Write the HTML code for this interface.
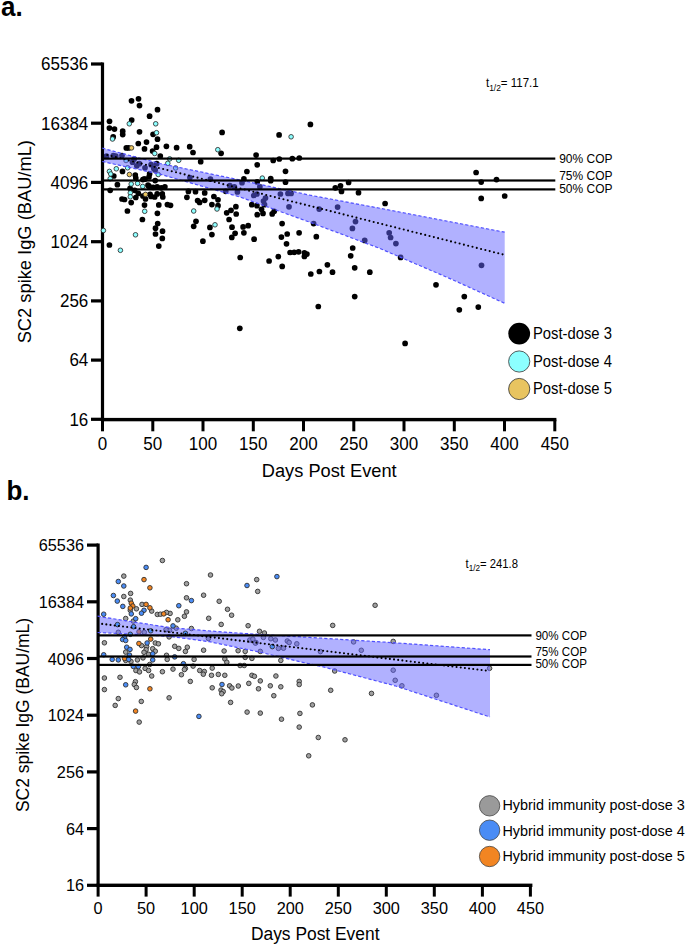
<!DOCTYPE html>
<html><head><meta charset="utf-8"><title>Figure</title><style>
html,body{margin:0;padding:0;background:#fff;}
body{width:685px;height:945px;overflow:hidden;position:relative;}
svg{position:absolute;left:0;top:0;display:block;}
text{font-family:"Liberation Sans", sans-serif;fill:#000;}
</style></head><body>
<svg width="685" height="945" viewBox="0 0 685 945">
<rect width="685" height="945" fill="#fff"/>
<text transform="translate(1.00,15.90) scale(1.0,1.03)" font-size="26" font-weight="bold">a.</text>
<rect x="100.9" y="62.5" width="3.2" height="358.8" fill="#000"/>
<rect x="100.9" y="417.9" width="455.5" height="3.4" fill="#000"/>
<rect x="91.0" y="62.4" width="11.5" height="3.2" fill="#000"/>
<text transform="translate(88.30,70.30) scale(1.0,1.04)" text-anchor="end" font-size="17">65536</text>
<rect x="91.0" y="121.6" width="11.5" height="3.2" fill="#000"/>
<text transform="translate(88.30,129.52) scale(1.0,1.04)" text-anchor="end" font-size="17">16384</text>
<rect x="91.0" y="180.8" width="11.5" height="3.2" fill="#000"/>
<text transform="translate(88.30,188.74) scale(1.0,1.04)" text-anchor="end" font-size="17">4096</text>
<rect x="91.0" y="240.1" width="11.5" height="3.2" fill="#000"/>
<text transform="translate(88.30,247.96) scale(1.0,1.04)" text-anchor="end" font-size="17">1024</text>
<rect x="91.0" y="299.3" width="11.5" height="3.2" fill="#000"/>
<text transform="translate(88.30,307.18) scale(1.0,1.04)" text-anchor="end" font-size="17">256</text>
<rect x="91.0" y="358.5" width="11.5" height="3.2" fill="#000"/>
<text transform="translate(88.30,366.40) scale(1.0,1.04)" text-anchor="end" font-size="17">64</text>
<rect x="91.0" y="417.7" width="11.5" height="3.2" fill="#000"/>
<text transform="translate(88.30,425.62) scale(1.0,1.04)" text-anchor="end" font-size="17">16</text>
<rect x="101.0" y="419.6" width="3" height="11.7" fill="#000"/>
<text transform="translate(102.50,449.50) scale(1.0,1.05)" text-anchor="middle" font-size="17">0</text>
<rect x="151.3" y="419.6" width="3" height="11.7" fill="#000"/>
<text transform="translate(152.75,449.50) scale(1.0,1.05)" text-anchor="middle" font-size="17">50</text>
<rect x="201.5" y="419.6" width="3" height="11.7" fill="#000"/>
<text transform="translate(203.01,449.50) scale(1.0,1.05)" text-anchor="middle" font-size="17">100</text>
<rect x="251.8" y="419.6" width="3" height="11.7" fill="#000"/>
<text transform="translate(253.27,449.50) scale(1.0,1.05)" text-anchor="middle" font-size="17">150</text>
<rect x="302.0" y="419.6" width="3" height="11.7" fill="#000"/>
<text transform="translate(303.52,449.50) scale(1.0,1.05)" text-anchor="middle" font-size="17">200</text>
<rect x="352.3" y="419.6" width="3" height="11.7" fill="#000"/>
<text transform="translate(353.78,449.50) scale(1.0,1.05)" text-anchor="middle" font-size="17">250</text>
<rect x="402.5" y="419.6" width="3" height="11.7" fill="#000"/>
<text transform="translate(404.03,449.50) scale(1.0,1.05)" text-anchor="middle" font-size="17">300</text>
<rect x="452.8" y="419.6" width="3" height="11.7" fill="#000"/>
<text transform="translate(454.29,449.50) scale(1.0,1.05)" text-anchor="middle" font-size="17">350</text>
<rect x="503.0" y="419.6" width="3" height="11.7" fill="#000"/>
<text transform="translate(504.54,449.50) scale(1.0,1.05)" text-anchor="middle" font-size="17">400</text>
<rect x="553.3" y="419.6" width="3" height="11.7" fill="#000"/>
<text transform="translate(554.80,449.50) scale(1.0,1.05)" text-anchor="middle" font-size="17">450</text>
<text transform="translate(329.20,476.70) scale(1.0,1.045)" text-anchor="middle" font-size="18.25">Days Post Event</text>
<text transform="translate(30.80,241.70) rotate(-90) scale(1.0,1.045)" text-anchor="middle" font-size="18.3">SC2 spike IgG (BAU/mL)</text>
<circle cx="131.5" cy="100.8" r="2.85" fill="#000"/>
<circle cx="138.5" cy="98.8" r="2.85" fill="#000"/>
<circle cx="139.5" cy="105.6" r="2.85" fill="#000"/>
<circle cx="157.5" cy="109.7" r="2.85" fill="#000"/>
<circle cx="149.6" cy="116.2" r="2.85" fill="#000"/>
<circle cx="109.5" cy="121.3" r="2.85" fill="#000"/>
<circle cx="131.7" cy="120.1" r="2.85" fill="#000"/>
<circle cx="109.4" cy="128.1" r="2.85" fill="#000"/>
<circle cx="114.5" cy="129.1" r="2.85" fill="#000"/>
<circle cx="122.7" cy="131.2" r="2.85" fill="#000"/>
<circle cx="139.5" cy="131.8" r="2.85" fill="#000"/>
<circle cx="153.1" cy="134.3" r="2.85" fill="#000"/>
<circle cx="122.7" cy="134.6" r="2.85" fill="#000"/>
<circle cx="113.2" cy="136.9" r="2.85" fill="#000"/>
<circle cx="157.5" cy="139.2" r="2.85" fill="#000"/>
<circle cx="146.5" cy="142.1" r="2.85" fill="#000"/>
<circle cx="138.3" cy="143.5" r="2.85" fill="#000"/>
<circle cx="126.3" cy="147.9" r="2.85" fill="#000"/>
<circle cx="128.6" cy="147.9" r="2.85" fill="#000"/>
<circle cx="166.4" cy="146.3" r="2.85" fill="#000"/>
<circle cx="156.5" cy="147.2" r="2.85" fill="#000"/>
<circle cx="144.5" cy="148.9" r="2.85" fill="#000"/>
<circle cx="152.6" cy="151.0" r="2.85" fill="#000"/>
<circle cx="160.3" cy="156.1" r="2.85" fill="#000"/>
<circle cx="113.3" cy="155.5" r="2.85" fill="#000"/>
<circle cx="115.8" cy="156.0" r="2.85" fill="#000"/>
<circle cx="106.5" cy="156.0" r="2.85" fill="#000"/>
<circle cx="122.0" cy="155.5" r="2.85" fill="#000"/>
<circle cx="134.2" cy="159.1" r="2.85" fill="#000"/>
<circle cx="132.5" cy="162.2" r="2.85" fill="#000"/>
<circle cx="139.3" cy="163.7" r="2.85" fill="#000"/>
<circle cx="136.8" cy="165.8" r="2.85" fill="#000"/>
<circle cx="145.0" cy="167.8" r="2.85" fill="#000"/>
<circle cx="151.1" cy="164.7" r="2.85" fill="#000"/>
<circle cx="155.2" cy="169.9" r="2.85" fill="#000"/>
<circle cx="156.7" cy="163.7" r="2.85" fill="#000"/>
<circle cx="153.8" cy="168.4" r="2.85" fill="#000"/>
<circle cx="122.5" cy="171.4" r="2.85" fill="#000"/>
<circle cx="113.8" cy="176.0" r="2.85" fill="#000"/>
<circle cx="135.3" cy="175.0" r="2.85" fill="#000"/>
<circle cx="149.6" cy="173.9" r="2.85" fill="#000"/>
<circle cx="149.0" cy="177.0" r="2.85" fill="#000"/>
<circle cx="135.8" cy="178.0" r="2.85" fill="#000"/>
<circle cx="144.0" cy="179.0" r="2.85" fill="#000"/>
<circle cx="142.9" cy="179.6" r="2.85" fill="#000"/>
<circle cx="145.0" cy="179.1" r="2.85" fill="#000"/>
<circle cx="155.2" cy="180.6" r="2.85" fill="#000"/>
<circle cx="117.4" cy="184.7" r="2.85" fill="#000"/>
<circle cx="110.2" cy="190.3" r="2.85" fill="#000"/>
<circle cx="130.1" cy="188.3" r="2.85" fill="#000"/>
<circle cx="148.0" cy="185.2" r="2.85" fill="#000"/>
<circle cx="149.0" cy="186.2" r="2.85" fill="#000"/>
<circle cx="153.1" cy="187.3" r="2.85" fill="#000"/>
<circle cx="157.2" cy="186.8" r="2.85" fill="#000"/>
<circle cx="161.3" cy="187.8" r="2.85" fill="#000"/>
<circle cx="164.9" cy="186.8" r="2.85" fill="#000"/>
<circle cx="134.7" cy="190.3" r="2.85" fill="#000"/>
<circle cx="138.3" cy="193.4" r="2.85" fill="#000"/>
<circle cx="135.8" cy="197.5" r="2.85" fill="#000"/>
<circle cx="142.9" cy="196.0" r="2.85" fill="#000"/>
<circle cx="145.5" cy="199.0" r="2.85" fill="#000"/>
<circle cx="150.1" cy="194.4" r="2.85" fill="#000"/>
<circle cx="151.1" cy="196.5" r="2.85" fill="#000"/>
<circle cx="154.7" cy="197.0" r="2.85" fill="#000"/>
<circle cx="157.2" cy="193.9" r="2.85" fill="#000"/>
<circle cx="162.3" cy="193.9" r="2.85" fill="#000"/>
<circle cx="162.8" cy="197.0" r="2.85" fill="#000"/>
<circle cx="122.0" cy="199.0" r="2.85" fill="#000"/>
<circle cx="124.5" cy="199.5" r="2.85" fill="#000"/>
<circle cx="131.2" cy="202.6" r="2.85" fill="#000"/>
<circle cx="144.5" cy="205.1" r="2.85" fill="#000"/>
<circle cx="158.8" cy="204.9" r="2.85" fill="#000"/>
<circle cx="167.4" cy="204.6" r="2.85" fill="#000"/>
<circle cx="170.5" cy="205.3" r="2.85" fill="#000"/>
<circle cx="127.4" cy="211.0" r="2.85" fill="#000"/>
<circle cx="157.4" cy="213.3" r="2.85" fill="#000"/>
<circle cx="142.4" cy="219.5" r="2.85" fill="#000"/>
<circle cx="157.7" cy="223.5" r="2.85" fill="#000"/>
<circle cx="155.5" cy="228.2" r="2.85" fill="#000"/>
<circle cx="162.5" cy="231.2" r="2.85" fill="#000"/>
<circle cx="155.5" cy="234.0" r="2.85" fill="#000"/>
<circle cx="162.3" cy="238.4" r="2.85" fill="#000"/>
<circle cx="158.8" cy="246.1" r="2.85" fill="#000"/>
<circle cx="109.4" cy="245.0" r="2.85" fill="#000"/>
<circle cx="222.1" cy="132.4" r="2.85" fill="#000"/>
<circle cx="176.6" cy="147.7" r="2.85" fill="#000"/>
<circle cx="189.7" cy="146.7" r="2.85" fill="#000"/>
<circle cx="193.0" cy="152.5" r="2.85" fill="#000"/>
<circle cx="221.1" cy="153.3" r="2.85" fill="#000"/>
<circle cx="200.7" cy="161.7" r="2.85" fill="#000"/>
<circle cx="189.9" cy="177.5" r="2.85" fill="#000"/>
<circle cx="210.4" cy="179.0" r="2.85" fill="#000"/>
<circle cx="229.8" cy="185.7" r="2.85" fill="#000"/>
<circle cx="234.4" cy="186.8" r="2.85" fill="#000"/>
<circle cx="237.4" cy="191.9" r="2.85" fill="#000"/>
<circle cx="225.7" cy="191.3" r="2.85" fill="#000"/>
<circle cx="188.4" cy="191.4" r="2.85" fill="#000"/>
<circle cx="195.5" cy="191.7" r="2.85" fill="#000"/>
<circle cx="204.7" cy="192.9" r="2.85" fill="#000"/>
<circle cx="186.9" cy="197.3" r="2.85" fill="#000"/>
<circle cx="197.6" cy="200.5" r="2.85" fill="#000"/>
<circle cx="199.6" cy="202.4" r="2.85" fill="#000"/>
<circle cx="204.7" cy="200.3" r="2.85" fill="#000"/>
<circle cx="213.9" cy="196.5" r="2.85" fill="#000"/>
<circle cx="218.0" cy="199.8" r="2.85" fill="#000"/>
<circle cx="211.9" cy="204.6" r="2.85" fill="#000"/>
<circle cx="218.0" cy="205.7" r="2.85" fill="#000"/>
<circle cx="226.7" cy="212.8" r="2.85" fill="#000"/>
<circle cx="231.0" cy="210.3" r="2.85" fill="#000"/>
<circle cx="235.9" cy="206.7" r="2.85" fill="#000"/>
<circle cx="236.2" cy="214.0" r="2.85" fill="#000"/>
<circle cx="229.1" cy="219.5" r="2.85" fill="#000"/>
<circle cx="196.0" cy="221.3" r="2.85" fill="#000"/>
<circle cx="193.7" cy="226.3" r="2.85" fill="#000"/>
<circle cx="209.9" cy="227.4" r="2.85" fill="#000"/>
<circle cx="232.0" cy="227.2" r="2.85" fill="#000"/>
<circle cx="235.1" cy="233.3" r="2.85" fill="#000"/>
<circle cx="231.8" cy="237.4" r="2.85" fill="#000"/>
<circle cx="211.9" cy="234.6" r="2.85" fill="#000"/>
<circle cx="202.9" cy="241.2" r="2.85" fill="#000"/>
<circle cx="310.4" cy="124.4" r="2.85" fill="#000"/>
<circle cx="279.1" cy="134.9" r="2.85" fill="#000"/>
<circle cx="256.1" cy="155.1" r="2.85" fill="#000"/>
<circle cx="273.2" cy="160.5" r="2.85" fill="#000"/>
<circle cx="279.3" cy="159.0" r="2.85" fill="#000"/>
<circle cx="292.3" cy="158.7" r="2.85" fill="#000"/>
<circle cx="299.3" cy="158.0" r="2.85" fill="#000"/>
<circle cx="257.2" cy="164.8" r="2.85" fill="#000"/>
<circle cx="246.9" cy="171.5" r="2.85" fill="#000"/>
<circle cx="285.5" cy="171.3" r="2.85" fill="#000"/>
<circle cx="243.9" cy="178.9" r="2.85" fill="#000"/>
<circle cx="270.7" cy="178.6" r="2.85" fill="#000"/>
<circle cx="270.7" cy="180.7" r="2.85" fill="#000"/>
<circle cx="257.2" cy="181.9" r="2.85" fill="#000"/>
<circle cx="285.5" cy="182.2" r="2.85" fill="#000"/>
<circle cx="242.0" cy="182.7" r="2.85" fill="#000"/>
<circle cx="259.9" cy="186.8" r="2.85" fill="#000"/>
<circle cx="253.8" cy="195.5" r="2.85" fill="#000"/>
<circle cx="256.9" cy="194.0" r="2.85" fill="#000"/>
<circle cx="280.4" cy="194.0" r="2.85" fill="#000"/>
<circle cx="288.0" cy="193.4" r="2.85" fill="#000"/>
<circle cx="291.1" cy="193.4" r="2.85" fill="#000"/>
<circle cx="265.5" cy="198.0" r="2.85" fill="#000"/>
<circle cx="263.5" cy="201.0" r="2.85" fill="#000"/>
<circle cx="348.6" cy="182.5" r="2.85" fill="#000"/>
<circle cx="340.5" cy="185.8" r="2.85" fill="#000"/>
<circle cx="335.3" cy="187.8" r="2.85" fill="#000"/>
<circle cx="341.5" cy="191.4" r="2.85" fill="#000"/>
<circle cx="358.5" cy="192.7" r="2.85" fill="#000"/>
<circle cx="476.1" cy="172.5" r="2.85" fill="#000"/>
<circle cx="481.2" cy="182.1" r="2.85" fill="#000"/>
<circle cx="496.5" cy="179.6" r="2.85" fill="#000"/>
<circle cx="481.2" cy="198.4" r="2.85" fill="#000"/>
<circle cx="504.7" cy="196.0" r="2.85" fill="#000"/>
<circle cx="385.1" cy="203.5" r="2.85" fill="#000"/>
<circle cx="389.2" cy="232.8" r="2.85" fill="#000"/>
<circle cx="390.6" cy="237.5" r="2.85" fill="#000"/>
<circle cx="395.9" cy="243.6" r="2.85" fill="#000"/>
<circle cx="264.5" cy="204.7" r="2.85" fill="#000"/>
<circle cx="289.0" cy="206.8" r="2.85" fill="#000"/>
<circle cx="251.8" cy="204.7" r="2.85" fill="#000"/>
<circle cx="256.9" cy="205.7" r="2.85" fill="#000"/>
<circle cx="261.5" cy="209.3" r="2.85" fill="#000"/>
<circle cx="263.0" cy="213.4" r="2.85" fill="#000"/>
<circle cx="257.2" cy="214.7" r="2.85" fill="#000"/>
<circle cx="272.2" cy="213.9" r="2.85" fill="#000"/>
<circle cx="274.2" cy="211.3" r="2.85" fill="#000"/>
<circle cx="282.1" cy="223.6" r="2.85" fill="#000"/>
<circle cx="243.1" cy="226.9" r="2.85" fill="#000"/>
<circle cx="248.2" cy="225.7" r="2.85" fill="#000"/>
<circle cx="243.9" cy="232.8" r="2.85" fill="#000"/>
<circle cx="254.1" cy="239.2" r="2.85" fill="#000"/>
<circle cx="281.4" cy="237.1" r="2.85" fill="#000"/>
<circle cx="287.2" cy="234.0" r="2.85" fill="#000"/>
<circle cx="299.1" cy="232.8" r="2.85" fill="#000"/>
<circle cx="286.5" cy="243.8" r="2.85" fill="#000"/>
<circle cx="319.2" cy="209.1" r="2.85" fill="#000"/>
<circle cx="337.6" cy="207.1" r="2.85" fill="#000"/>
<circle cx="355.5" cy="221.6" r="2.85" fill="#000"/>
<circle cx="352.4" cy="228.4" r="2.85" fill="#000"/>
<circle cx="313.6" cy="223.6" r="2.85" fill="#000"/>
<circle cx="316.3" cy="236.7" r="2.85" fill="#000"/>
<circle cx="364.7" cy="240.4" r="2.85" fill="#000"/>
<circle cx="290.1" cy="252.5" r="2.85" fill="#000"/>
<circle cx="294.2" cy="252.3" r="2.85" fill="#000"/>
<circle cx="298.6" cy="251.8" r="2.85" fill="#000"/>
<circle cx="304.4" cy="252.8" r="2.85" fill="#000"/>
<circle cx="306.9" cy="254.1" r="2.85" fill="#000"/>
<circle cx="304.4" cy="256.4" r="2.85" fill="#000"/>
<circle cx="240.2" cy="257.5" r="2.85" fill="#000"/>
<circle cx="278.3" cy="256.6" r="2.85" fill="#000"/>
<circle cx="269.1" cy="261.0" r="2.85" fill="#000"/>
<circle cx="282.2" cy="266.4" r="2.85" fill="#000"/>
<circle cx="352.7" cy="248.0" r="2.85" fill="#000"/>
<circle cx="350.7" cy="255.8" r="2.85" fill="#000"/>
<circle cx="327.4" cy="264.8" r="2.85" fill="#000"/>
<circle cx="319.4" cy="271.5" r="2.85" fill="#000"/>
<circle cx="332.5" cy="272.2" r="2.85" fill="#000"/>
<circle cx="354.7" cy="267.8" r="2.85" fill="#000"/>
<circle cx="369.8" cy="272.2" r="2.85" fill="#000"/>
<circle cx="310.8" cy="274.0" r="2.85" fill="#000"/>
<circle cx="400.6" cy="257.4" r="2.85" fill="#000"/>
<circle cx="436.0" cy="284.8" r="2.85" fill="#000"/>
<circle cx="481.5" cy="265.3" r="2.85" fill="#000"/>
<circle cx="464.3" cy="296.6" r="2.85" fill="#000"/>
<circle cx="459.3" cy="309.8" r="2.85" fill="#000"/>
<circle cx="478.3" cy="307.1" r="2.85" fill="#000"/>
<circle cx="239.8" cy="328.3" r="2.85" fill="#000"/>
<circle cx="318.3" cy="306.5" r="2.85" fill="#000"/>
<circle cx="354.7" cy="296.6" r="2.85" fill="#000"/>
<circle cx="405.1" cy="343.4" r="2.85" fill="#000"/>
<circle cx="129.3" cy="123.8" r="2.3" fill="#8cffff" stroke="#2a2a2a" stroke-width="0.85"/>
<circle cx="155.7" cy="123.8" r="2.3" fill="#8cffff" stroke="#2a2a2a" stroke-width="0.85"/>
<circle cx="156.5" cy="132.7" r="2.3" fill="#8cffff" stroke="#2a2a2a" stroke-width="0.85"/>
<circle cx="112.5" cy="139.0" r="2.3" fill="#8cffff" stroke="#2a2a2a" stroke-width="0.85"/>
<circle cx="154.7" cy="153.5" r="2.3" fill="#8cffff" stroke="#2a2a2a" stroke-width="0.85"/>
<circle cx="126.0" cy="160.5" r="2.3" fill="#8cffff" stroke="#2a2a2a" stroke-width="0.85"/>
<circle cx="169.7" cy="158.9" r="2.3" fill="#8cffff" stroke="#2a2a2a" stroke-width="0.85"/>
<circle cx="167.8" cy="163.3" r="2.3" fill="#8cffff" stroke="#2a2a2a" stroke-width="0.85"/>
<circle cx="127.6" cy="167.8" r="2.3" fill="#8cffff" stroke="#2a2a2a" stroke-width="0.85"/>
<circle cx="116.3" cy="168.8" r="2.3" fill="#8cffff" stroke="#2a2a2a" stroke-width="0.85"/>
<circle cx="109.4" cy="171.4" r="2.3" fill="#8cffff" stroke="#2a2a2a" stroke-width="0.85"/>
<circle cx="110.7" cy="174.0" r="2.3" fill="#8cffff" stroke="#2a2a2a" stroke-width="0.85"/>
<circle cx="158.2" cy="174.5" r="2.3" fill="#8cffff" stroke="#2a2a2a" stroke-width="0.85"/>
<circle cx="110.2" cy="178.7" r="2.3" fill="#8cffff" stroke="#2a2a2a" stroke-width="0.85"/>
<circle cx="131.2" cy="184.0" r="2.3" fill="#8cffff" stroke="#2a2a2a" stroke-width="0.85"/>
<circle cx="137.6" cy="183.4" r="2.3" fill="#8cffff" stroke="#2a2a2a" stroke-width="0.85"/>
<circle cx="142.7" cy="186.4" r="2.3" fill="#8cffff" stroke="#2a2a2a" stroke-width="0.85"/>
<circle cx="130.3" cy="192.9" r="2.3" fill="#8cffff" stroke="#2a2a2a" stroke-width="0.85"/>
<circle cx="130.3" cy="196.8" r="2.3" fill="#8cffff" stroke="#2a2a2a" stroke-width="0.85"/>
<circle cx="144.7" cy="211.3" r="2.3" fill="#8cffff" stroke="#2a2a2a" stroke-width="0.85"/>
<circle cx="103.4" cy="230.5" r="2.3" fill="#8cffff" stroke="#2a2a2a" stroke-width="0.85"/>
<circle cx="135.5" cy="234.8" r="2.3" fill="#8cffff" stroke="#2a2a2a" stroke-width="0.85"/>
<circle cx="120.4" cy="250.3" r="2.3" fill="#8cffff" stroke="#2a2a2a" stroke-width="0.85"/>
<circle cx="217.8" cy="149.7" r="2.3" fill="#8cffff" stroke="#2a2a2a" stroke-width="0.85"/>
<circle cx="178.7" cy="160.3" r="2.3" fill="#8cffff" stroke="#2a2a2a" stroke-width="0.85"/>
<circle cx="175.6" cy="168.0" r="2.3" fill="#8cffff" stroke="#2a2a2a" stroke-width="0.85"/>
<circle cx="217.0" cy="209.0" r="2.3" fill="#8cffff" stroke="#2a2a2a" stroke-width="0.85"/>
<circle cx="193.7" cy="211.0" r="2.3" fill="#8cffff" stroke="#2a2a2a" stroke-width="0.85"/>
<circle cx="215.0" cy="224.8" r="2.3" fill="#8cffff" stroke="#2a2a2a" stroke-width="0.85"/>
<circle cx="291.1" cy="136.8" r="2.3" fill="#8cffff" stroke="#2a2a2a" stroke-width="0.85"/>
<circle cx="262.3" cy="178.1" r="2.3" fill="#8cffff" stroke="#2a2a2a" stroke-width="0.85"/>
<circle cx="131.5" cy="147.9" r="2.3" fill="#e8c460" stroke="#2a2a2a" stroke-width="0.85"/>
<circle cx="129.4" cy="174.5" r="2.3" fill="#e8c460" stroke="#2a2a2a" stroke-width="0.85"/>
<circle cx="145.5" cy="194.4" r="2.3" fill="#e8c460" stroke="#2a2a2a" stroke-width="0.85"/>
<polygon points="104.1,148.7 160.0,163.5 240.0,180.0 310.0,195.2 380.0,208.3 504.7,232.2 504.7,303.3 450.0,278.6 380.0,248.5 310.0,222.3 240.0,197.0 160.0,174.2 104.1,161.9" fill="#6464ff" fill-opacity="0.5"/><polyline points="102.3,148.2 160.0,163.5 240.0,180.0 310.0,195.2 380.0,208.3 504.7,232.2" fill="none" stroke="#5050ff" stroke-width="1.2" stroke-dasharray="3.2 2.1"/><polyline points="102.3,161.5 160.0,174.2 240.0,197.0 310.0,222.3 380.0,248.5 450.0,278.6 504.7,303.3" fill="none" stroke="#5050ff" stroke-width="1.2" stroke-dasharray="3.2 2.1"/>
<line x1="103" y1="153.9" x2="504.7" y2="254.9" stroke="#000" stroke-width="2.1" stroke-linecap="round" stroke-dasharray="0 4.43"/>
<rect x="103" y="157.50" width="452.3" height="2.2" fill="#000"/>
<rect x="103" y="179.40" width="452.3" height="2.2" fill="#000"/>
<rect x="103" y="188.30" width="452.3" height="2.2" fill="#000"/>
<text transform="translate(559.20,163.20) scale(1.0,1.06)" font-size="12.0">90% COP</text>
<text transform="translate(559.20,180.40) scale(1.0,1.06)" font-size="12.0">75% COP</text>
<text transform="translate(559.20,193.10) scale(1.0,1.06)" font-size="12.0">50% COP</text>
<text transform="translate(486,87.4) scale(1,1.06)" font-size="11.5">t<tspan font-size="8.4" dy="3.2">1/2</tspan><tspan dy="-3.2">= 117.1</tspan></text>
<circle cx="519.2" cy="333.6" r="10.9" fill="#000"/>
<circle cx="519.2" cy="361.5" r="10.6" fill="#8cffff" stroke="#333" stroke-width="0.8"/>
<circle cx="519.2" cy="389.0" r="10.6" fill="#e8c460" stroke="#333" stroke-width="0.8"/>
<text transform="translate(533.00,338.80) scale(1.0,1.08)" font-size="14.8">Post-dose 3</text>
<text transform="translate(533.00,366.60) scale(1.0,1.08)" font-size="14.8">Post-dose 4</text>
<text transform="translate(533.00,394.20) scale(1.0,1.08)" font-size="14.8">Post-dose 5</text>
<text transform="translate(6.50,499.50) scale(1.0,1.03)" font-size="26" font-weight="bold">b.</text>
<rect x="96.5" y="543.5" width="3.2" height="343.5" fill="#000"/>
<rect x="96.5" y="883.6" width="435.9" height="3.4" fill="#000"/>
<rect x="87.0" y="543.5" width="11.1" height="3.2" fill="#000"/>
<text transform="translate(84.00,551.10) scale(1.0,1.04)" text-anchor="end" font-size="16.3">65536</text>
<rect x="87.0" y="600.2" width="11.1" height="3.2" fill="#000"/>
<text transform="translate(84.00,607.80) scale(1.0,1.04)" text-anchor="end" font-size="16.3">16384</text>
<rect x="87.0" y="656.9" width="11.1" height="3.2" fill="#000"/>
<text transform="translate(84.00,664.50) scale(1.0,1.04)" text-anchor="end" font-size="16.3">4096</text>
<rect x="87.0" y="713.6" width="11.1" height="3.2" fill="#000"/>
<text transform="translate(84.00,721.20) scale(1.0,1.04)" text-anchor="end" font-size="16.3">1024</text>
<rect x="87.0" y="770.3" width="11.1" height="3.2" fill="#000"/>
<text transform="translate(84.00,777.90) scale(1.0,1.04)" text-anchor="end" font-size="16.3">256</text>
<rect x="87.0" y="827.0" width="11.1" height="3.2" fill="#000"/>
<text transform="translate(84.00,834.60) scale(1.0,1.04)" text-anchor="end" font-size="16.3">64</text>
<rect x="87.0" y="883.7" width="11.1" height="3.2" fill="#000"/>
<text transform="translate(84.00,891.30) scale(1.0,1.04)" text-anchor="end" font-size="16.3">16</text>
<rect x="96.6" y="885.3" width="3" height="11.3" fill="#000"/>
<text transform="translate(98.10,914.00) scale(1.0,1.05)" text-anchor="middle" font-size="16.3">0</text>
<rect x="144.6" y="885.3" width="3" height="11.3" fill="#000"/>
<text transform="translate(146.13,914.00) scale(1.0,1.05)" text-anchor="middle" font-size="16.3">50</text>
<rect x="192.7" y="885.3" width="3" height="11.3" fill="#000"/>
<text transform="translate(194.17,914.00) scale(1.0,1.05)" text-anchor="middle" font-size="16.3">100</text>
<rect x="240.7" y="885.3" width="3" height="11.3" fill="#000"/>
<text transform="translate(242.20,914.00) scale(1.0,1.05)" text-anchor="middle" font-size="16.3">150</text>
<rect x="288.7" y="885.3" width="3" height="11.3" fill="#000"/>
<text transform="translate(290.24,914.00) scale(1.0,1.05)" text-anchor="middle" font-size="16.3">200</text>
<rect x="336.8" y="885.3" width="3" height="11.3" fill="#000"/>
<text transform="translate(338.27,914.00) scale(1.0,1.05)" text-anchor="middle" font-size="16.3">250</text>
<rect x="384.8" y="885.3" width="3" height="11.3" fill="#000"/>
<text transform="translate(386.31,914.00) scale(1.0,1.05)" text-anchor="middle" font-size="16.3">300</text>
<rect x="432.8" y="885.3" width="3" height="11.3" fill="#000"/>
<text transform="translate(434.35,914.00) scale(1.0,1.05)" text-anchor="middle" font-size="16.3">350</text>
<rect x="480.9" y="885.3" width="3" height="11.3" fill="#000"/>
<text transform="translate(482.38,914.00) scale(1.0,1.05)" text-anchor="middle" font-size="16.3">400</text>
<rect x="528.9" y="885.3" width="3" height="11.3" fill="#000"/>
<text transform="translate(530.41,914.00) scale(1.0,1.05)" text-anchor="middle" font-size="16.3">450</text>
<text transform="translate(315.20,940.10) scale(1.0,1.045)" text-anchor="middle" font-size="17.4">Days Post Event</text>
<text transform="translate(29.40,715.00) rotate(-90) scale(1.0,1.045)" text-anchor="middle" font-size="17.5">SC2 spike IgG (BAU/mL)</text>
<circle cx="162.4" cy="560.5" r="2.3" fill="#a0a0a0" stroke="#303030" stroke-width="0.9"/>
<circle cx="123.8" cy="576.1" r="2.3" fill="#a0a0a0" stroke="#303030" stroke-width="0.9"/>
<circle cx="123.8" cy="596.5" r="2.3" fill="#a0a0a0" stroke="#303030" stroke-width="0.9"/>
<circle cx="130.6" cy="593.4" r="2.3" fill="#a0a0a0" stroke="#303030" stroke-width="0.9"/>
<circle cx="210.5" cy="575.0" r="2.3" fill="#a0a0a0" stroke="#303030" stroke-width="0.9"/>
<circle cx="186.5" cy="583.7" r="2.3" fill="#a0a0a0" stroke="#303030" stroke-width="0.9"/>
<circle cx="203.6" cy="595.2" r="2.3" fill="#a0a0a0" stroke="#303030" stroke-width="0.9"/>
<circle cx="186.5" cy="597.8" r="2.3" fill="#a0a0a0" stroke="#303030" stroke-width="0.9"/>
<circle cx="130.3" cy="600.1" r="2.3" fill="#a0a0a0" stroke="#303030" stroke-width="0.9"/>
<circle cx="130.3" cy="610.3" r="2.3" fill="#a0a0a0" stroke="#303030" stroke-width="0.9"/>
<circle cx="136.4" cy="608.8" r="2.3" fill="#a0a0a0" stroke="#303030" stroke-width="0.9"/>
<circle cx="142.0" cy="604.4" r="2.3" fill="#a0a0a0" stroke="#303030" stroke-width="0.9"/>
<circle cx="151.7" cy="611.1" r="2.3" fill="#a0a0a0" stroke="#303030" stroke-width="0.9"/>
<circle cx="157.3" cy="614.4" r="2.3" fill="#a0a0a0" stroke="#303030" stroke-width="0.9"/>
<circle cx="160.4" cy="614.2" r="2.3" fill="#a0a0a0" stroke="#303030" stroke-width="0.9"/>
<circle cx="125.7" cy="618.5" r="2.3" fill="#a0a0a0" stroke="#303030" stroke-width="0.9"/>
<circle cx="133.3" cy="621.1" r="2.3" fill="#a0a0a0" stroke="#303030" stroke-width="0.9"/>
<circle cx="118.3" cy="632.3" r="2.3" fill="#a0a0a0" stroke="#303030" stroke-width="0.9"/>
<circle cx="104.4" cy="642.8" r="2.3" fill="#a0a0a0" stroke="#303030" stroke-width="0.9"/>
<circle cx="155.3" cy="643.0" r="2.3" fill="#a0a0a0" stroke="#303030" stroke-width="0.9"/>
<circle cx="158.4" cy="643.8" r="2.3" fill="#a0a0a0" stroke="#303030" stroke-width="0.9"/>
<circle cx="144.3" cy="632.3" r="2.3" fill="#a0a0a0" stroke="#303030" stroke-width="0.9"/>
<circle cx="219.2" cy="601.3" r="2.3" fill="#a0a0a0" stroke="#303030" stroke-width="0.9"/>
<circle cx="186.5" cy="611.9" r="2.3" fill="#a0a0a0" stroke="#303030" stroke-width="0.9"/>
<circle cx="184.4" cy="616.3" r="2.3" fill="#a0a0a0" stroke="#303030" stroke-width="0.9"/>
<circle cx="170.1" cy="613.4" r="2.3" fill="#a0a0a0" stroke="#303030" stroke-width="0.9"/>
<circle cx="166.5" cy="612.4" r="2.3" fill="#a0a0a0" stroke="#303030" stroke-width="0.9"/>
<circle cx="177.8" cy="619.8" r="2.3" fill="#a0a0a0" stroke="#303030" stroke-width="0.9"/>
<circle cx="227.5" cy="609.3" r="2.3" fill="#a0a0a0" stroke="#303030" stroke-width="0.9"/>
<circle cx="231.6" cy="615.2" r="2.3" fill="#a0a0a0" stroke="#303030" stroke-width="0.9"/>
<circle cx="208.7" cy="618.3" r="2.3" fill="#a0a0a0" stroke="#303030" stroke-width="0.9"/>
<circle cx="221.2" cy="624.4" r="2.3" fill="#a0a0a0" stroke="#303030" stroke-width="0.9"/>
<circle cx="176.2" cy="628.2" r="2.3" fill="#a0a0a0" stroke="#303030" stroke-width="0.9"/>
<circle cx="169.6" cy="630.3" r="2.3" fill="#a0a0a0" stroke="#303030" stroke-width="0.9"/>
<circle cx="166.0" cy="629.7" r="2.3" fill="#a0a0a0" stroke="#303030" stroke-width="0.9"/>
<circle cx="191.4" cy="628.5" r="2.3" fill="#a0a0a0" stroke="#303030" stroke-width="0.9"/>
<circle cx="169.1" cy="636.9" r="2.3" fill="#a0a0a0" stroke="#303030" stroke-width="0.9"/>
<circle cx="208.4" cy="638.4" r="2.3" fill="#a0a0a0" stroke="#303030" stroke-width="0.9"/>
<circle cx="256.7" cy="579.6" r="2.3" fill="#a0a0a0" stroke="#303030" stroke-width="0.9"/>
<circle cx="257.7" cy="591.4" r="2.3" fill="#a0a0a0" stroke="#303030" stroke-width="0.9"/>
<circle cx="248.1" cy="625.7" r="2.3" fill="#a0a0a0" stroke="#303030" stroke-width="0.9"/>
<circle cx="259.5" cy="631.3" r="2.3" fill="#a0a0a0" stroke="#303030" stroke-width="0.9"/>
<circle cx="264.4" cy="633.0" r="2.3" fill="#a0a0a0" stroke="#303030" stroke-width="0.9"/>
<circle cx="249.8" cy="640.0" r="2.3" fill="#a0a0a0" stroke="#303030" stroke-width="0.9"/>
<circle cx="252.9" cy="639.1" r="2.3" fill="#a0a0a0" stroke="#303030" stroke-width="0.9"/>
<circle cx="256.0" cy="642.5" r="2.3" fill="#a0a0a0" stroke="#303030" stroke-width="0.9"/>
<circle cx="263.4" cy="637.4" r="2.3" fill="#a0a0a0" stroke="#303030" stroke-width="0.9"/>
<circle cx="270.8" cy="638.7" r="2.3" fill="#a0a0a0" stroke="#303030" stroke-width="0.9"/>
<circle cx="275.4" cy="640.0" r="2.3" fill="#a0a0a0" stroke="#303030" stroke-width="0.9"/>
<circle cx="287.3" cy="641.0" r="2.3" fill="#a0a0a0" stroke="#303030" stroke-width="0.9"/>
<circle cx="289.2" cy="642.5" r="2.3" fill="#a0a0a0" stroke="#303030" stroke-width="0.9"/>
<circle cx="296.8" cy="643.8" r="2.3" fill="#a0a0a0" stroke="#303030" stroke-width="0.9"/>
<circle cx="375.1" cy="605.3" r="2.3" fill="#a0a0a0" stroke="#303030" stroke-width="0.9"/>
<circle cx="332.7" cy="625.4" r="2.3" fill="#a0a0a0" stroke="#303030" stroke-width="0.9"/>
<circle cx="353.6" cy="641.9" r="2.3" fill="#a0a0a0" stroke="#303030" stroke-width="0.9"/>
<circle cx="320.4" cy="651.6" r="2.3" fill="#a0a0a0" stroke="#303030" stroke-width="0.9"/>
<circle cx="361.3" cy="650.3" r="2.3" fill="#a0a0a0" stroke="#303030" stroke-width="0.9"/>
<circle cx="334.7" cy="671.0" r="2.3" fill="#a0a0a0" stroke="#303030" stroke-width="0.9"/>
<circle cx="393.2" cy="641.4" r="2.3" fill="#a0a0a0" stroke="#303030" stroke-width="0.9"/>
<circle cx="393.2" cy="670.2" r="2.3" fill="#a0a0a0" stroke="#303030" stroke-width="0.9"/>
<circle cx="395.2" cy="680.3" r="2.3" fill="#a0a0a0" stroke="#303030" stroke-width="0.9"/>
<circle cx="401.9" cy="685.8" r="2.3" fill="#a0a0a0" stroke="#303030" stroke-width="0.9"/>
<circle cx="436.4" cy="695.3" r="2.3" fill="#a0a0a0" stroke="#303030" stroke-width="0.9"/>
<circle cx="489.6" cy="668.3" r="2.3" fill="#a0a0a0" stroke="#303030" stroke-width="0.9"/>
<circle cx="371.5" cy="693.4" r="2.3" fill="#a0a0a0" stroke="#303030" stroke-width="0.9"/>
<circle cx="141.5" cy="645.6" r="2.3" fill="#a0a0a0" stroke="#303030" stroke-width="0.9"/>
<circle cx="125.7" cy="652.1" r="2.3" fill="#a0a0a0" stroke="#303030" stroke-width="0.9"/>
<circle cx="146.6" cy="646.6" r="2.3" fill="#a0a0a0" stroke="#303030" stroke-width="0.9"/>
<circle cx="146.1" cy="649.7" r="2.3" fill="#a0a0a0" stroke="#303030" stroke-width="0.9"/>
<circle cx="152.7" cy="648.7" r="2.3" fill="#a0a0a0" stroke="#303030" stroke-width="0.9"/>
<circle cx="155.3" cy="651.2" r="2.3" fill="#a0a0a0" stroke="#303030" stroke-width="0.9"/>
<circle cx="144.0" cy="652.3" r="2.3" fill="#a0a0a0" stroke="#303030" stroke-width="0.9"/>
<circle cx="148.6" cy="654.3" r="2.3" fill="#a0a0a0" stroke="#303030" stroke-width="0.9"/>
<circle cx="125.7" cy="660.4" r="2.3" fill="#a0a0a0" stroke="#303030" stroke-width="0.9"/>
<circle cx="131.0" cy="661.5" r="2.3" fill="#a0a0a0" stroke="#303030" stroke-width="0.9"/>
<circle cx="137.4" cy="659.9" r="2.3" fill="#a0a0a0" stroke="#303030" stroke-width="0.9"/>
<circle cx="143.0" cy="657.9" r="2.3" fill="#a0a0a0" stroke="#303030" stroke-width="0.9"/>
<circle cx="149.7" cy="664.5" r="2.3" fill="#a0a0a0" stroke="#303030" stroke-width="0.9"/>
<circle cx="145.1" cy="668.4" r="2.3" fill="#a0a0a0" stroke="#303030" stroke-width="0.9"/>
<circle cx="148.6" cy="670.5" r="2.3" fill="#a0a0a0" stroke="#303030" stroke-width="0.9"/>
<circle cx="135.9" cy="670.5" r="2.3" fill="#a0a0a0" stroke="#303030" stroke-width="0.9"/>
<circle cx="139.5" cy="671.9" r="2.3" fill="#a0a0a0" stroke="#303030" stroke-width="0.9"/>
<circle cx="151.7" cy="676.0" r="2.3" fill="#a0a0a0" stroke="#303030" stroke-width="0.9"/>
<circle cx="162.4" cy="671.7" r="2.3" fill="#a0a0a0" stroke="#303030" stroke-width="0.9"/>
<circle cx="104.4" cy="678.0" r="2.3" fill="#a0a0a0" stroke="#303030" stroke-width="0.9"/>
<circle cx="120.0" cy="677.3" r="2.3" fill="#a0a0a0" stroke="#303030" stroke-width="0.9"/>
<circle cx="135.4" cy="681.7" r="2.3" fill="#a0a0a0" stroke="#303030" stroke-width="0.9"/>
<circle cx="134.3" cy="684.5" r="2.3" fill="#a0a0a0" stroke="#303030" stroke-width="0.9"/>
<circle cx="136.4" cy="687.5" r="2.3" fill="#a0a0a0" stroke="#303030" stroke-width="0.9"/>
<circle cx="104.4" cy="689.6" r="2.3" fill="#a0a0a0" stroke="#303030" stroke-width="0.9"/>
<circle cx="174.7" cy="646.3" r="2.3" fill="#a0a0a0" stroke="#303030" stroke-width="0.9"/>
<circle cx="178.8" cy="648.4" r="2.3" fill="#a0a0a0" stroke="#303030" stroke-width="0.9"/>
<circle cx="187.3" cy="647.2" r="2.3" fill="#a0a0a0" stroke="#303030" stroke-width="0.9"/>
<circle cx="185.4" cy="651.4" r="2.3" fill="#a0a0a0" stroke="#303030" stroke-width="0.9"/>
<circle cx="203.6" cy="650.2" r="2.3" fill="#a0a0a0" stroke="#303030" stroke-width="0.9"/>
<circle cx="224.1" cy="651.0" r="2.3" fill="#a0a0a0" stroke="#303030" stroke-width="0.9"/>
<circle cx="166.5" cy="655.3" r="2.3" fill="#a0a0a0" stroke="#303030" stroke-width="0.9"/>
<circle cx="167.2" cy="659.4" r="2.3" fill="#a0a0a0" stroke="#303030" stroke-width="0.9"/>
<circle cx="194.1" cy="659.4" r="2.3" fill="#a0a0a0" stroke="#303030" stroke-width="0.9"/>
<circle cx="224.8" cy="658.9" r="2.3" fill="#a0a0a0" stroke="#303030" stroke-width="0.9"/>
<circle cx="226.8" cy="662.3" r="2.3" fill="#a0a0a0" stroke="#303030" stroke-width="0.9"/>
<circle cx="193.1" cy="666.1" r="2.3" fill="#a0a0a0" stroke="#303030" stroke-width="0.9"/>
<circle cx="185.4" cy="668.4" r="2.3" fill="#a0a0a0" stroke="#303030" stroke-width="0.9"/>
<circle cx="184.4" cy="669.6" r="2.3" fill="#a0a0a0" stroke="#303030" stroke-width="0.9"/>
<circle cx="173.0" cy="669.1" r="2.3" fill="#a0a0a0" stroke="#303030" stroke-width="0.9"/>
<circle cx="212.2" cy="668.1" r="2.3" fill="#a0a0a0" stroke="#303030" stroke-width="0.9"/>
<circle cx="199.7" cy="670.5" r="2.3" fill="#a0a0a0" stroke="#303030" stroke-width="0.9"/>
<circle cx="204.3" cy="671.5" r="2.3" fill="#a0a0a0" stroke="#303030" stroke-width="0.9"/>
<circle cx="203.3" cy="674.2" r="2.3" fill="#a0a0a0" stroke="#303030" stroke-width="0.9"/>
<circle cx="181.4" cy="674.7" r="2.3" fill="#a0a0a0" stroke="#303030" stroke-width="0.9"/>
<circle cx="211.5" cy="675.3" r="2.3" fill="#a0a0a0" stroke="#303030" stroke-width="0.9"/>
<circle cx="218.3" cy="674.4" r="2.3" fill="#a0a0a0" stroke="#303030" stroke-width="0.9"/>
<circle cx="224.8" cy="675.3" r="2.3" fill="#a0a0a0" stroke="#303030" stroke-width="0.9"/>
<circle cx="190.3" cy="681.4" r="2.3" fill="#a0a0a0" stroke="#303030" stroke-width="0.9"/>
<circle cx="229.6" cy="685.8" r="2.3" fill="#a0a0a0" stroke="#303030" stroke-width="0.9"/>
<circle cx="231.9" cy="688.0" r="2.3" fill="#a0a0a0" stroke="#303030" stroke-width="0.9"/>
<circle cx="212.2" cy="687.8" r="2.3" fill="#a0a0a0" stroke="#303030" stroke-width="0.9"/>
<circle cx="255.4" cy="643.1" r="2.3" fill="#a0a0a0" stroke="#303030" stroke-width="0.9"/>
<circle cx="278.4" cy="648.4" r="2.3" fill="#a0a0a0" stroke="#303030" stroke-width="0.9"/>
<circle cx="283.5" cy="648.2" r="2.3" fill="#a0a0a0" stroke="#303030" stroke-width="0.9"/>
<circle cx="238.1" cy="650.7" r="2.3" fill="#a0a0a0" stroke="#303030" stroke-width="0.9"/>
<circle cx="245.2" cy="651.4" r="2.3" fill="#a0a0a0" stroke="#303030" stroke-width="0.9"/>
<circle cx="260.3" cy="651.4" r="2.3" fill="#a0a0a0" stroke="#303030" stroke-width="0.9"/>
<circle cx="245.2" cy="657.4" r="2.3" fill="#a0a0a0" stroke="#303030" stroke-width="0.9"/>
<circle cx="251.9" cy="658.4" r="2.3" fill="#a0a0a0" stroke="#303030" stroke-width="0.9"/>
<circle cx="280.8" cy="660.4" r="2.3" fill="#a0a0a0" stroke="#303030" stroke-width="0.9"/>
<circle cx="240.1" cy="665.5" r="2.3" fill="#a0a0a0" stroke="#303030" stroke-width="0.9"/>
<circle cx="244.2" cy="665.5" r="2.3" fill="#a0a0a0" stroke="#303030" stroke-width="0.9"/>
<circle cx="251.9" cy="675.3" r="2.3" fill="#a0a0a0" stroke="#303030" stroke-width="0.9"/>
<circle cx="254.4" cy="676.3" r="2.3" fill="#a0a0a0" stroke="#303030" stroke-width="0.9"/>
<circle cx="275.9" cy="676.0" r="2.3" fill="#a0a0a0" stroke="#303030" stroke-width="0.9"/>
<circle cx="260.3" cy="680.9" r="2.3" fill="#a0a0a0" stroke="#303030" stroke-width="0.9"/>
<circle cx="248.8" cy="683.4" r="2.3" fill="#a0a0a0" stroke="#303030" stroke-width="0.9"/>
<circle cx="238.3" cy="686.0" r="2.3" fill="#a0a0a0" stroke="#303030" stroke-width="0.9"/>
<circle cx="270.3" cy="685.8" r="2.3" fill="#a0a0a0" stroke="#303030" stroke-width="0.9"/>
<circle cx="280.8" cy="686.8" r="2.3" fill="#a0a0a0" stroke="#303030" stroke-width="0.9"/>
<circle cx="299.2" cy="681.4" r="2.3" fill="#a0a0a0" stroke="#303030" stroke-width="0.9"/>
<circle cx="299.2" cy="684.5" r="2.3" fill="#a0a0a0" stroke="#303030" stroke-width="0.9"/>
<circle cx="258.5" cy="688.8" r="2.3" fill="#a0a0a0" stroke="#303030" stroke-width="0.9"/>
<circle cx="118.3" cy="698.6" r="2.3" fill="#a0a0a0" stroke="#303030" stroke-width="0.9"/>
<circle cx="141.3" cy="701.4" r="2.3" fill="#a0a0a0" stroke="#303030" stroke-width="0.9"/>
<circle cx="115.2" cy="705.4" r="2.3" fill="#a0a0a0" stroke="#303030" stroke-width="0.9"/>
<circle cx="139.2" cy="722.1" r="2.3" fill="#a0a0a0" stroke="#303030" stroke-width="0.9"/>
<circle cx="221.0" cy="690.1" r="2.3" fill="#a0a0a0" stroke="#303030" stroke-width="0.9"/>
<circle cx="223.2" cy="691.6" r="2.3" fill="#a0a0a0" stroke="#303030" stroke-width="0.9"/>
<circle cx="221.7" cy="693.7" r="2.3" fill="#a0a0a0" stroke="#303030" stroke-width="0.9"/>
<circle cx="169.1" cy="697.8" r="2.3" fill="#a0a0a0" stroke="#303030" stroke-width="0.9"/>
<circle cx="230.6" cy="702.4" r="2.3" fill="#a0a0a0" stroke="#303030" stroke-width="0.9"/>
<circle cx="273.8" cy="695.7" r="2.3" fill="#a0a0a0" stroke="#303030" stroke-width="0.9"/>
<circle cx="247.1" cy="712.1" r="2.3" fill="#a0a0a0" stroke="#303030" stroke-width="0.9"/>
<circle cx="260.3" cy="713.1" r="2.3" fill="#a0a0a0" stroke="#303030" stroke-width="0.9"/>
<circle cx="299.9" cy="713.4" r="2.3" fill="#a0a0a0" stroke="#303030" stroke-width="0.9"/>
<circle cx="281.5" cy="719.2" r="2.3" fill="#a0a0a0" stroke="#303030" stroke-width="0.9"/>
<circle cx="299.2" cy="727.1" r="2.3" fill="#a0a0a0" stroke="#303030" stroke-width="0.9"/>
<circle cx="330.7" cy="690.3" r="2.3" fill="#a0a0a0" stroke="#303030" stroke-width="0.9"/>
<circle cx="312.4" cy="704.9" r="2.3" fill="#a0a0a0" stroke="#303030" stroke-width="0.9"/>
<circle cx="318.3" cy="737.5" r="2.3" fill="#a0a0a0" stroke="#303030" stroke-width="0.9"/>
<circle cx="345.0" cy="739.8" r="2.3" fill="#a0a0a0" stroke="#303030" stroke-width="0.9"/>
<circle cx="308.7" cy="755.8" r="2.3" fill="#a0a0a0" stroke="#303030" stroke-width="0.9"/>
<circle cx="144.0" cy="579.6" r="2.3" fill="#f28522" stroke="#303030" stroke-width="0.9"/>
<circle cx="149.9" cy="587.8" r="2.3" fill="#f28522" stroke="#303030" stroke-width="0.9"/>
<circle cx="131.3" cy="603.2" r="2.3" fill="#f28522" stroke="#303030" stroke-width="0.9"/>
<circle cx="132.8" cy="606.0" r="2.3" fill="#f28522" stroke="#303030" stroke-width="0.9"/>
<circle cx="130.3" cy="608.1" r="2.3" fill="#f28522" stroke="#303030" stroke-width="0.9"/>
<circle cx="146.1" cy="604.4" r="2.3" fill="#f28522" stroke="#303030" stroke-width="0.9"/>
<circle cx="149.9" cy="607.8" r="2.3" fill="#f28522" stroke="#303030" stroke-width="0.9"/>
<circle cx="163.7" cy="613.9" r="2.3" fill="#f28522" stroke="#303030" stroke-width="0.9"/>
<circle cx="168.1" cy="619.7" r="2.3" fill="#f28522" stroke="#303030" stroke-width="0.9"/>
<circle cx="139.0" cy="631.8" r="2.3" fill="#f28522" stroke="#303030" stroke-width="0.9"/>
<circle cx="150.7" cy="639.1" r="2.3" fill="#f28522" stroke="#303030" stroke-width="0.9"/>
<circle cx="138.9" cy="643.5" r="2.3" fill="#f28522" stroke="#303030" stroke-width="0.9"/>
<circle cx="124.6" cy="658.4" r="2.3" fill="#f28522" stroke="#303030" stroke-width="0.9"/>
<circle cx="149.9" cy="688.8" r="2.3" fill="#f28522" stroke="#303030" stroke-width="0.9"/>
<circle cx="135.6" cy="711.1" r="2.3" fill="#f28522" stroke="#303030" stroke-width="0.9"/>
<polygon points="99.7,616.5 135.0,622.2 170.0,627.6 225.0,632.2 260.0,634.5 309.4,637.4 395.0,642.8 490.0,649.7 490.0,717.0 395.0,685.8 324.3,667.2 300.0,661.7 260.0,652.2 209.4,641.7 170.0,636.4 130.0,634.0 99.7,632.6" fill="#6464ff" fill-opacity="0.5"/><polyline points="97.6,616.2 135.0,622.2 170.0,627.6 225.0,632.2 260.0,634.5 309.4,637.4 395.0,642.8 490.0,649.7" fill="none" stroke="#5050ff" stroke-width="1.2" stroke-dasharray="3.2 2.1"/><polyline points="97.6,632.5 130.0,634.0 170.0,636.4 209.4,641.7 260.0,652.2 300.0,661.7 324.3,667.2 395.0,685.8 490.0,717.0" fill="none" stroke="#5050ff" stroke-width="1.2" stroke-dasharray="3.2 2.1"/>
<circle cx="146.1" cy="567.4" r="2.3" fill="#4a8cf5" stroke="#303030" stroke-width="0.9"/>
<circle cx="118.3" cy="581.5" r="2.3" fill="#4a8cf5" stroke="#303030" stroke-width="0.9"/>
<circle cx="123.8" cy="586.0" r="2.3" fill="#4a8cf5" stroke="#303030" stroke-width="0.9"/>
<circle cx="113.4" cy="595.5" r="2.3" fill="#4a8cf5" stroke="#303030" stroke-width="0.9"/>
<circle cx="117.3" cy="601.1" r="2.3" fill="#4a8cf5" stroke="#303030" stroke-width="0.9"/>
<circle cx="122.8" cy="606.4" r="2.3" fill="#4a8cf5" stroke="#303030" stroke-width="0.9"/>
<circle cx="144.0" cy="610.3" r="2.3" fill="#4a8cf5" stroke="#303030" stroke-width="0.9"/>
<circle cx="141.5" cy="613.2" r="2.3" fill="#4a8cf5" stroke="#303030" stroke-width="0.9"/>
<circle cx="131.3" cy="613.9" r="2.3" fill="#4a8cf5" stroke="#303030" stroke-width="0.9"/>
<circle cx="103.7" cy="614.2" r="2.3" fill="#4a8cf5" stroke="#303030" stroke-width="0.9"/>
<circle cx="135.7" cy="618.7" r="2.3" fill="#4a8cf5" stroke="#303030" stroke-width="0.9"/>
<circle cx="117.5" cy="624.6" r="2.3" fill="#4a8cf5" stroke="#303030" stroke-width="0.9"/>
<circle cx="133.6" cy="626.7" r="2.3" fill="#4a8cf5" stroke="#303030" stroke-width="0.9"/>
<circle cx="150.7" cy="630.8" r="2.3" fill="#4a8cf5" stroke="#303030" stroke-width="0.9"/>
<circle cx="130.3" cy="634.3" r="2.3" fill="#4a8cf5" stroke="#303030" stroke-width="0.9"/>
<circle cx="124.6" cy="636.9" r="2.3" fill="#4a8cf5" stroke="#303030" stroke-width="0.9"/>
<circle cx="122.6" cy="639.5" r="2.3" fill="#4a8cf5" stroke="#303030" stroke-width="0.9"/>
<circle cx="125.7" cy="640.5" r="2.3" fill="#4a8cf5" stroke="#303030" stroke-width="0.9"/>
<circle cx="147.1" cy="643.0" r="2.3" fill="#4a8cf5" stroke="#303030" stroke-width="0.9"/>
<circle cx="191.4" cy="600.6" r="2.3" fill="#4a8cf5" stroke="#303030" stroke-width="0.9"/>
<circle cx="178.8" cy="605.7" r="2.3" fill="#4a8cf5" stroke="#303030" stroke-width="0.9"/>
<circle cx="173.0" cy="625.9" r="2.3" fill="#4a8cf5" stroke="#303030" stroke-width="0.9"/>
<circle cx="185.4" cy="633.3" r="2.3" fill="#4a8cf5" stroke="#303030" stroke-width="0.9"/>
<circle cx="276.9" cy="576.6" r="2.3" fill="#4a8cf5" stroke="#303030" stroke-width="0.9"/>
<circle cx="247.0" cy="585.5" r="2.3" fill="#4a8cf5" stroke="#303030" stroke-width="0.9"/>
<circle cx="126.7" cy="647.2" r="2.3" fill="#4a8cf5" stroke="#303030" stroke-width="0.9"/>
<circle cx="130.0" cy="649.4" r="2.3" fill="#4a8cf5" stroke="#303030" stroke-width="0.9"/>
<circle cx="103.7" cy="654.8" r="2.3" fill="#4a8cf5" stroke="#303030" stroke-width="0.9"/>
<circle cx="129.5" cy="655.1" r="2.3" fill="#4a8cf5" stroke="#303030" stroke-width="0.9"/>
<circle cx="152.7" cy="653.8" r="2.3" fill="#4a8cf5" stroke="#303030" stroke-width="0.9"/>
<circle cx="112.2" cy="659.4" r="2.3" fill="#4a8cf5" stroke="#303030" stroke-width="0.9"/>
<circle cx="118.3" cy="659.9" r="2.3" fill="#4a8cf5" stroke="#303030" stroke-width="0.9"/>
<circle cx="128.7" cy="659.4" r="2.3" fill="#4a8cf5" stroke="#303030" stroke-width="0.9"/>
<circle cx="152.7" cy="659.9" r="2.3" fill="#4a8cf5" stroke="#303030" stroke-width="0.9"/>
<circle cx="133.3" cy="666.4" r="2.3" fill="#4a8cf5" stroke="#303030" stroke-width="0.9"/>
<circle cx="138.4" cy="666.6" r="2.3" fill="#4a8cf5" stroke="#303030" stroke-width="0.9"/>
<circle cx="125.7" cy="684.8" r="2.3" fill="#4a8cf5" stroke="#303030" stroke-width="0.9"/>
<circle cx="174.7" cy="656.9" r="2.3" fill="#4a8cf5" stroke="#303030" stroke-width="0.9"/>
<circle cx="183.4" cy="663.7" r="2.3" fill="#4a8cf5" stroke="#303030" stroke-width="0.9"/>
<circle cx="222.0" cy="684.5" r="2.3" fill="#4a8cf5" stroke="#303030" stroke-width="0.9"/>
<circle cx="272.3" cy="646.6" r="2.3" fill="#4a8cf5" stroke="#303030" stroke-width="0.9"/>
<circle cx="198.9" cy="716.4" r="2.3" fill="#4a8cf5" stroke="#303030" stroke-width="0.9"/>
<line x1="98" y1="623.4" x2="486" y2="670.6" stroke="#000" stroke-width="2.1" stroke-linecap="round" stroke-dasharray="0 4.2"/>
<rect x="98" y="634.30" width="433.5" height="2.2" fill="#000"/>
<rect x="98" y="655.40" width="433.5" height="2.2" fill="#000"/>
<rect x="98" y="663.80" width="433.5" height="2.2" fill="#000"/>
<text transform="translate(535.40,640.20) scale(1.0,1.06)" font-size="11.6">90% COP</text>
<text transform="translate(535.40,656.20) scale(1.0,1.06)" font-size="11.6">75% COP</text>
<text transform="translate(535.40,668.30) scale(1.0,1.06)" font-size="11.6">50% COP</text>
<text transform="translate(465.5,567.7) scale(1,1.06)" font-size="11.3">t<tspan font-size="8.2" dy="3.1">1/2</tspan><tspan dy="-3.1">= 241.8</tspan></text>
<circle cx="489.6" cy="805.8" r="10.2" fill="#9a9a9a" stroke="#444" stroke-width="0.8"/>
<circle cx="489.6" cy="830.2" r="10.2" fill="#4a8cf5" stroke="#444" stroke-width="0.8"/>
<circle cx="489.6" cy="856.5" r="10.2" fill="#f28522" stroke="#444" stroke-width="0.8"/>
<text transform="translate(502.40,810.00) scale(1.0,1.07)" font-size="14.4">Hybrid immunity post-dose 3</text>
<text transform="translate(502.40,835.50) scale(1.0,1.07)" font-size="14.4">Hybrid immunity post-dose 4</text>
<text transform="translate(502.40,860.50) scale(1.0,1.07)" font-size="14.4">Hybrid immunity post-dose 5</text>
</svg></body></html>
